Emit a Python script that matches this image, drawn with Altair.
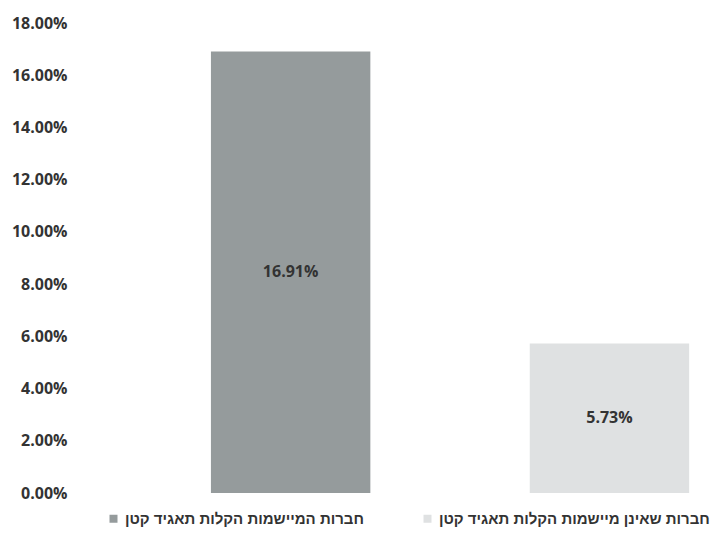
import altair as alt
import pandas as pd

categories = ["חברות המיישמות הקלות תאגיד קטן", "חברות שאינן מיישמות הקלות תאגיד קטן"]
values = [0.1691, 0.0573]
colors = ["#959b9c", "#dfe1e2"]
y_ticks = [0.0, 0.02, 0.04, 0.06, 0.08, 0.10, 0.12, 0.14, 0.16, 0.18]

df = pd.DataFrame({"group": categories, "value": values})

base = alt.Chart(df).transform_calculate(mid="datum.value / 2")

x_enc = alt.X(
    "group:N",
    sort=categories,
    axis=None,
    scale=alt.Scale(paddingInner=0.5, paddingOuter=0.26, align=0.82),
)
y_scale = alt.Scale(domain=[0, 0.18])

bars = base.mark_bar().encode(
    x=x_enc,
    y=alt.Y(
        "value:Q",
        scale=y_scale,
        axis=alt.Axis(
            values=y_ticks,
            format=".2%",
            title=None,
            grid=False,
            domain=False,
            ticks=False,
            labelFont="Open Sans",
            labelFontWeight="bold",
            labelFontSize=16,
            labelColor="#333333",
            labelPadding=8,
        ),
    ),
    color=alt.Color(
        "group:N",
        sort=categories,
        scale=alt.Scale(domain=categories, range=colors),
        legend=alt.Legend(
            orient="none",
            legendX=31,
            legendY=488,
            direction="horizontal",
            title=None,
            symbolType="square",
            symbolSize=64,
            symbolStrokeWidth=0,
            labelFont="Liberation Sans",
            labelFontWeight="bold",
            labelFontSize=15,
            labelColor="#333333",
            labelOffset=4,
            labelLimit=400,
            columnPadding=56,
            padding=0,
        ),
    ),
)

labels = base.mark_text(
    font="Open Sans", fontWeight="bold", fontSize=16, color="#333333", baseline="middle"
).encode(
    x=x_enc,
    y=alt.Y("mid:Q", scale=y_scale),
    text=alt.Text("value:Q", format=".2%"),
)

chart = (
    alt.layer(bars, labels)
    .properties(
        width=644,
        height=470,
        autosize=alt.AutoSizeParams(type="none"),
        padding={"left": 67, "top": 15, "right": 0, "bottom": 37},
    )
    .configure_view(stroke=None)
)

chart.save("out.html", embed_options={"renderer": "svg", "actions": False})
